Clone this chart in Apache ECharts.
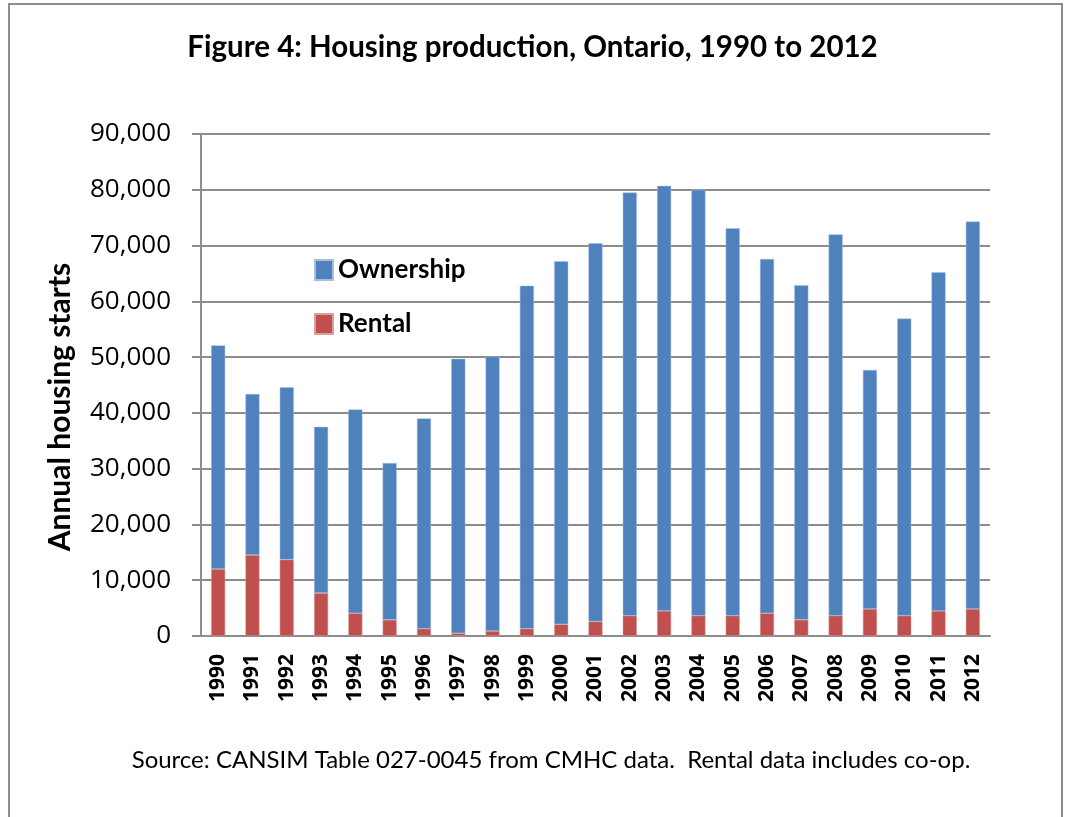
<!DOCTYPE html>
<html>
<head>
<meta charset="utf-8">
<script src="https://cdn.jsdelivr.net/npm/echarts@6/dist/echarts.min.js"></script>
<style>
  html, body { margin: 0; padding: 0; background: #fff; }
  #chart { width: 1065px; height: 817px; }
</style>
</head>
<body>
<div id="chart"></div>
<script>
// values
const years = ['1990', '1991', '1992', '1993', '1994', '1995', '1996', '1997', '1998', '1999', '2000', '2001',
  '2002', '2003', '2004', '2005', '2006', '2007', '2008', '2009', '2010', '2011', '2012'];
const rental = [12000, 14500, 13700, 7700, 4100, 2900, 1300, 500, 900, 1300, 2100, 2600,
  3650, 4500, 3650, 3650, 4100, 2900, 3650, 4850, 3650, 4500, 4850];
const ownership = [40100, 28900, 30900, 29800, 36500, 28100, 37700, 49200, 49200, 61500, 65100, 67800,
  75850, 76200, 76350, 69450, 63500, 60000, 68350, 42850, 53250, 60700, 69450];

const font = 'Lato, "Open Sans", sans-serif';
const wide = '"Open Sans", Lato, sans-serif';
const chart = echarts.init(document.getElementById('chart'));

const option = {
  animation: false,
  backgroundColor: '#fff',
  title: {
    text: 'Figure 4: Housing production, Ontario, 1990 to 2012',
    left: 'center',
    top: 27,
    textStyle: { fontFamily: font, fontSize: 29.5, fontWeight: 'bold', color: '#000' }
  },
  legend: {
    data: ['Ownership', 'Rental'],
    orient: 'vertical',
    left: 314,
    top: 257,
    padding: 0,
    icon: 'rect',
    itemWidth: 18,
    itemHeight: 20,
    itemGap: 28,
    textStyle: { fontFamily: font, fontSize: 26, fontWeight: 'bold', color: '#000', lineHeight: 20 }
  },
  grid: { left: 201, right: 75, top: 134, bottom: 181 },
  xAxis: {
    type: 'category',
    data: years,
    axisLine: { lineStyle: { color: '#8c8c8c', width: 2 } },
    axisTick: { show: false },
    axisLabel: {
      rotate: 90,
      margin: 18,
      fontFamily: wide,
      fontSize: 21,
      fontWeight: 'bold',
      color: '#000'
    }
  },
  yAxis: {
    type: 'value',
    min: 0,
    max: 90000,
    interval: 10000,
    axisLine: { show: true, lineStyle: { color: '#8c8c8c', width: 2 } },
    axisTick: { show: true, length: 9, lineStyle: { color: '#8c8c8c', width: 2 } },
    splitLine: { lineStyle: { color: '#8c8c8c', width: 2 } },
    axisLabel: {
      margin: 30,
      fontFamily: wide,
      fontSize: 26,
      color: '#000',
      formatter: v => v.toLocaleString('en-US')
    }
  },
  series: [
    {
      name: 'Rental',
      type: 'bar',
      stack: 'total',
      data: rental,
      barWidth: '41%',
      itemStyle: { color: '#C0504D', borderColor: '#d9a09e', borderWidth: 0.5 }
    },
    {
      name: 'Ownership',
      type: 'bar',
      stack: 'total',
      data: ownership,
      barWidth: '41%',
      itemStyle: { color: '#4F81BD', borderColor: '#a5bfdf', borderWidth: 0.5 }
    }
  ],
  graphic: [
    {
      type: 'rect',
      shape: { x: 9, y: 4, width: 1053, height: 830 },
      style: { fill: 'none', stroke: '#8c8c8c', lineWidth: 2 },
      silent: true
    },
    {
      type: 'text',
      x: 60,
      y: 407,
      rotation: Math.PI / 2,
      style: {
        text: 'Annual housing starts',
        align: 'center',
        verticalAlign: 'middle',
        fontFamily: font,
        fontSize: 30,
        fontWeight: 'bold',
        fill: '#000'
      }
    },
    {
      type: 'text',
      x: 551,
      y: 760,
      style: {
        text: 'Source: CANSIM Table 027-0045 from CMHC data.  Rental data includes co-op.',
        align: 'center',
        verticalAlign: 'middle',
        fontFamily: font,
        fontSize: 24,
        fill: '#000'
      }
    }
  ]
};

chart.setOption(option);
</script>
</body>
</html>
